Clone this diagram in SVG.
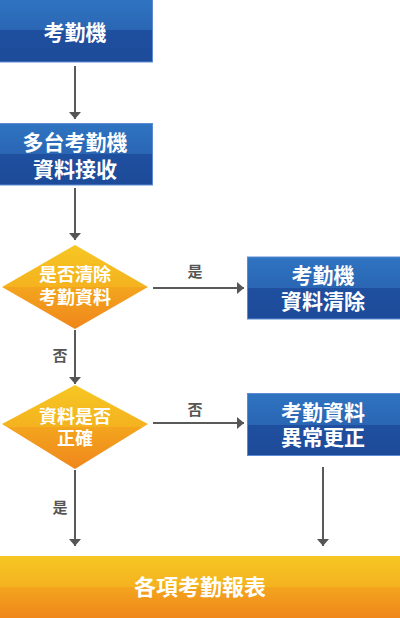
<svg xmlns="http://www.w3.org/2000/svg" width="400" height="618" viewBox="0 0 400 618">
<defs>
<linearGradient id="gb" x1="0" y1="0" x2="0" y2="1">
<stop offset="0" stop-color="#2f74c1"/>
<stop offset="0.5" stop-color="#2a66b4"/>
<stop offset="0.5" stop-color="#1f4f9f"/>
<stop offset="1" stop-color="#1d4b9a"/>
</linearGradient>
<linearGradient id="go" x1="0" y1="0" x2="0" y2="1">
<stop offset="0" stop-color="#f6c723"/>
<stop offset="0.5" stop-color="#f4b21f"/>
<stop offset="0.5" stop-color="#f3a51e"/>
<stop offset="1" stop-color="#f0861b"/>
</linearGradient>
<marker id="ah" viewBox="0 0 7 12" refX="7" refY="6" markerWidth="7" markerHeight="12" markerUnits="userSpaceOnUse" orient="auto">
<path d="M0,0 L7,6 L0,12 z" fill="#555"/>
</marker>
</defs>
<style>
.box{fill:url(#gb);stroke:#5b8bd2;stroke-width:1}
.dia{fill:url(#go)}
.bar{fill:url(#go)}
.t{font-family:"Noto Sans CJK TC","Noto Sans CJK SC",sans-serif;font-weight:bold;fill:#fff;text-anchor:middle}
.lb{font-family:"Noto Sans CJK TC","Noto Sans CJK SC",sans-serif;font-weight:bold;fill:#555;font-size:15px;text-anchor:middle}
.ln{stroke:#5a5a5a;stroke-width:2;fill:none;marker-end:url(#ah)}
</style>
<g id="connectors">
<line class="ln" x1="75" y1="66" x2="75" y2="119"/>
<line class="ln" x1="75" y1="188" x2="75" y2="240"/>
<line class="ln" x1="153" y1="288" x2="244" y2="288"/>
<line class="ln" x1="75" y1="330" x2="75" y2="384"/>
<line class="ln" x1="153" y1="423" x2="244" y2="423"/>
<line class="ln" x1="75" y1="470" x2="75" y2="546"/>
<line class="ln" x1="323" y1="467" x2="323" y2="546"/>
<text class="lb" x="195" y="277">是</text>
<text class="lb" x="195" y="415">否</text>
<text class="lb" x="60" y="361">否</text>
<text class="lb" x="60" y="513">是</text>
</g>
<g id="n1">
<rect class="box" x="-1" y="-1" width="153.5" height="63"/>
<text class="t" x="75" y="40" font-size="21">考勤機</text>
</g>
<g id="n2">
<rect class="box" x="-1" y="123.5" width="153.5" height="61.5"/>
<text class="t" font-size="21"><tspan x="75" y="150">多台考勤機</tspan><tspan x="75" y="177">資料接收</tspan></text>
</g>
<g id="n3">
<polygon class="dia" points="75,245 148,287 75,329 2,287"/>
<text class="t" font-size="18"><tspan x="75" y="281">是否清除</tspan><tspan x="75" y="303.5">考勤資料</tspan></text>
</g>
<g id="n4">
<rect class="box" x="247.5" y="257" width="153" height="62"/>
<text class="t" font-size="21"><tspan x="323" y="283">考勤機</tspan><tspan x="323" y="309">資料清除</tspan></text>
</g>
<g id="n5">
<polygon class="dia" points="75,385 148,424 75,469 2,424"/>
<text class="t" font-size="18"><tspan x="75" y="423">資料是否</tspan><tspan x="75" y="445">正確</tspan></text>
</g>
<g id="n6">
<rect class="box" x="247.5" y="393.5" width="153" height="62"/>
<text class="t" font-size="21"><tspan x="323" y="420">考勤資料</tspan><tspan x="323" y="445">異常更正</tspan></text>
</g>
<g id="n7">
<rect class="bar" x="0" y="556" width="400" height="62"/>
<text class="t" x="200" y="595" font-size="22">各項考勤報表</text>
</g>
</svg>
